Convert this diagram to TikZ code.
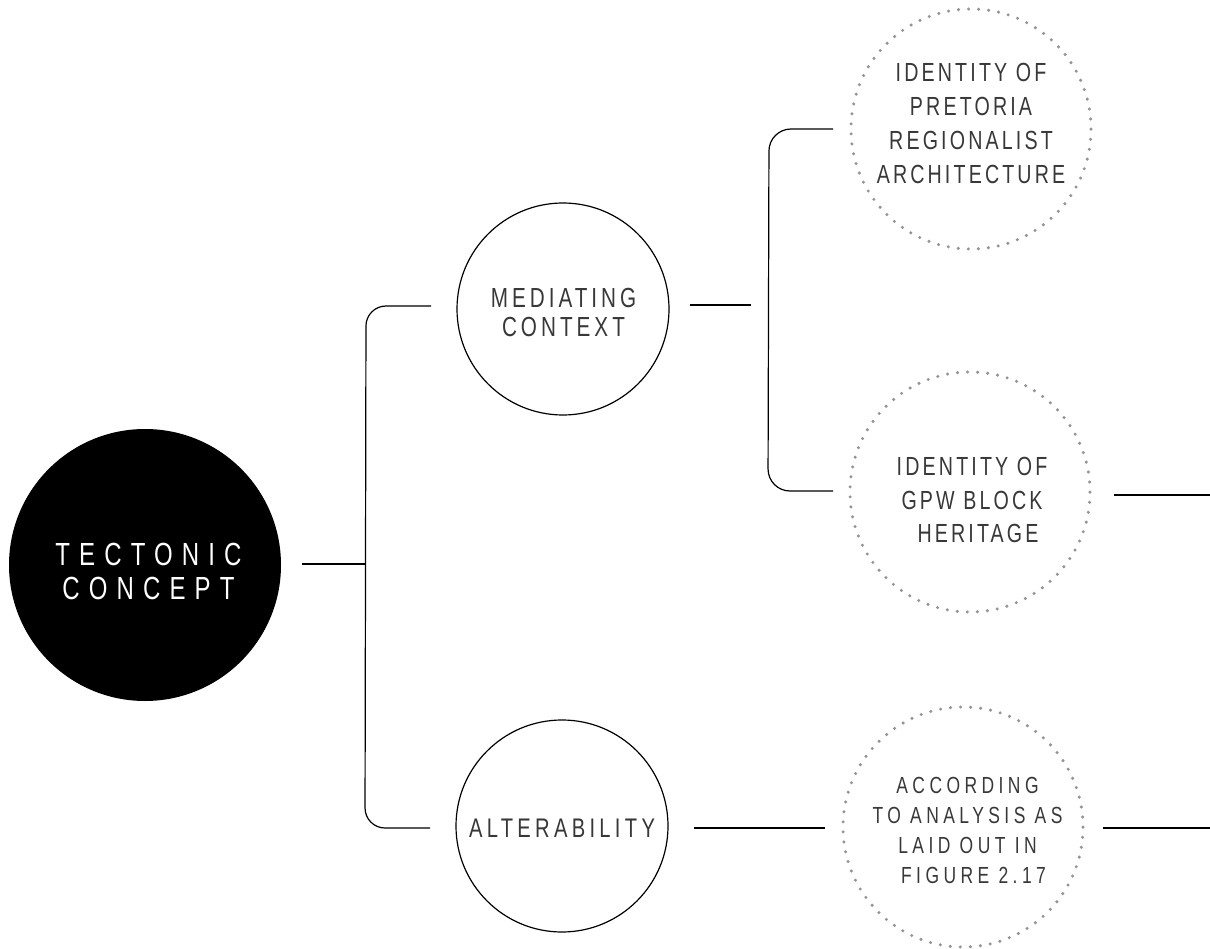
\documentclass[tikz,border=0pt]{standalone}
\usepackage{fontspec}
\setmainfont{Liberation Sans}
\newfontfamily\fta{Liberation Sans}[FakeStretch=0.75,LetterSpace=28.5]
\newfontfamily\ftb{Liberation Sans}[FakeStretch=0.75,LetterSpace=14.5]
\newfontfamily\ftc{Liberation Sans}[FakeStretch=0.75,LetterSpace=16]
\newfontfamily\ftd{Liberation Sans}[FakeStretch=0.75,LetterSpace=12]
\newfontfamily\fte{Liberation Sans}[FakeStretch=0.75,LetterSpace=19]
\begin{document}
\begin{tikzpicture}[x=1pt,y=-1pt,
  conn/.style={line width=1.2pt,black},
  solidc/.style={circle,draw=black,line width=1.2pt,inner sep=0pt,minimum size=212pt},
  dotc/.style={circle,draw=black!42,line width=3.4pt,line cap=round,dash pattern=on 0pt off 10.05pt,inner sep=0pt,minimum size=240pt},
  lbl/.style={align=center,inner sep=0pt,text=black!78},
]
\useasboundingbox (0,0) rectangle (1210,949);
% nodes
\node[circle,fill=black,inner sep=0pt,minimum size=272pt] (tc) at (145,565) {};
\node[solidc] (mc) at (563,309) {};
\node[solidc] (alt) at (562,826) {};
\node[dotc] (ip) at (971,129) {};
\node[dotc] (gpw) at (970,492) {};
\node[dotc] (acc) at (963,827) {};
% labels
\node[lbl,text=white,font={\fta\fontsize{32}{34}\selectfont}] (tct) at (148.5,571.5) {TECTONIC\\CONCEPT};
\node[lbl,font={\ftb\fontsize{27.6}{29}\selectfont}] (mct) at (563.5,313) {MEDIATING\\CONTEXT};
\node[lbl,font={\ftc\fontsize{26.9}{29}\selectfont}] (altt) at (562,828) {ALTERABILITY};
\node[lbl,font={\ftd\fontsize{26.2}{33.7}\selectfont}] (ipt) at (971,123.5) {IDENTITY OF\\PRETORIA\\REGIONALIST\\ARCHITECTURE};
\node[lbl,font={\ftd\fontsize{26.2}{33.5}\selectfont}] (gpwt) at (972,500) {IDENTITY OF\\GPW BLOCK\\\hspace*{12pt}HERITAGE};
\node[lbl,font={\fte\fontsize{23.3}{30}\selectfont}] (acct) at (967.5,830) {ACCORDING\\TO ANALYSIS AS\\LAID OUT IN\\\hspace*{12pt}FIGURE 2.17};
% coordinates
\coordinate (j1) at (366,564);
\coordinate (b1t) at (431,306);
\coordinate (b1b) at (430,828);
\coordinate (m1) at (751,305);
\coordinate (b2t) at (833,129);
\coordinate (b2b) at (833,491);
\coordinate (e1) at (1210,495);
\coordinate (e2) at (1210,828);
% connectors
\draw[conn] ([xshift=21pt,yshift=1pt]tc.east) -- (j1);
\draw[conn,rounded corners=20pt] (b1t) -- (366,306) -- (365,828) -- (b1b);
\draw[conn] ([xshift=20pt,yshift=4pt]mc.east) -- (m1);
\draw[conn,rounded corners=22pt] (b2t) -- (769,129) -- (768,491) -- (b2b);
\draw[conn] ([xshift=22pt,yshift=-3pt]gpw.east) -- (e1);
\draw[conn] ([xshift=25pt,yshift=-2pt]alt.east) -- ([xshift=-16pt,yshift=-1pt]acc.west);
\draw[conn] ([xshift=18pt,yshift=-1pt]acc.east) -- (e2);
\end{tikzpicture}
\end{document}
